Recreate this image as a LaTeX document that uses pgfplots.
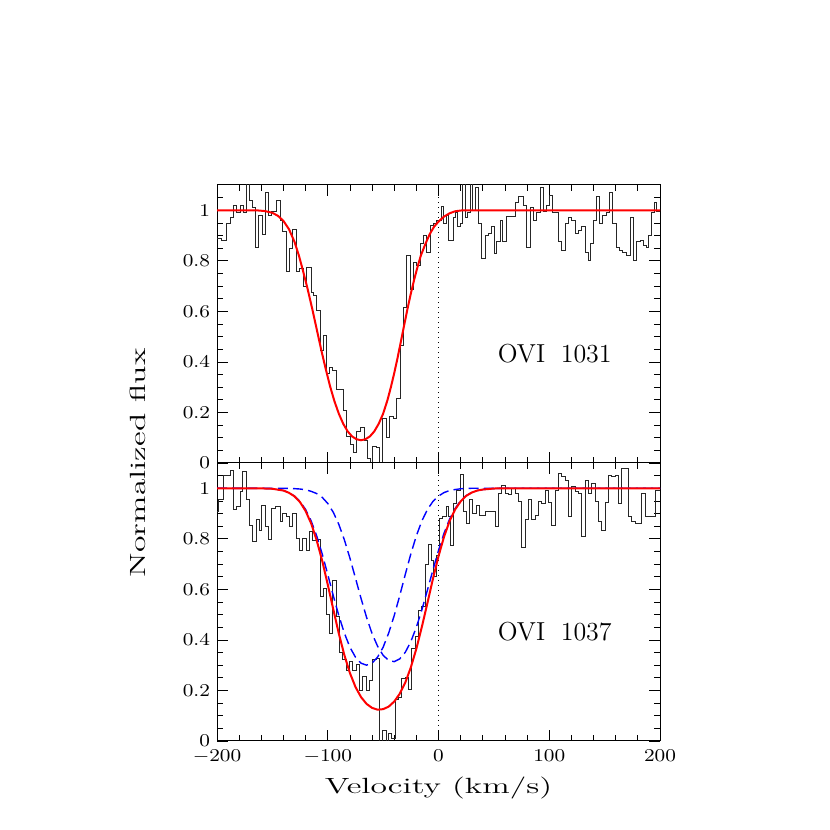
\documentclass[border=0pt]{standalone}
\usepackage{graphicx}
\usepackage{pgfplots}
\pgfplotsset{compat=1.18}

% shared look of the two stacked panels
\pgfplotsset{
  panel/.style={
    scale only axis, width=221.5pt, height=139pt,
    xmin=-200, xmax=200, ymin=0, ymax=1.1,
    xtick={-200,-100,0,100,200}, minor x tick num=4,
    ytick={0,0.2,0.4,0.6,0.8,1},
    minor ytick={0.05,0.1,0.15,0.25,0.3,0.35,0.45,0.5,0.55,0.65,0.7,0.75,0.85,0.9,0.95,1.05},
    tick align=inside, tick pos=both,
    major tick length=5.5pt, minor tick length=3pt,
    axis line style={line width=0.5pt}, every tick/.style={black, line width=0.4pt},
    tick label style={font=\fontsize{9}{10}\selectfont, inner sep=1pt},
    xticklabel={\scalebox{1.15}[1]{$\pgfmathprintnumber{\tick}$}},
    yticklabel={\scalebox{1.15}[1]{$\pgfmathprintnumber{\tick}$}},
    xticklabel style={yshift=-3.3pt},
    yticklabel style={xshift=-2.3pt},
    label style={font=\fontsize{11}{13}\selectfont},
    clip=true,
  },
  hist/.style={const plot mark left, black!85, line width=0.4pt, no marks},
  fit/.style={red, line width=1pt, no marks},
  comp/.style={blue, line width=0.7pt, dash pattern=on 5pt off 2.6pt, no marks},
}

\begin{document}
\begin{tikzpicture}
\path[use as bounding box] (0,0) rectangle (415pt,415pt);

% ---------------- top panel: OVI 1031 ----------------
\begin{axis}[panel, at={(108.5pt,183.5pt)}, anchor=south west, xticklabels={}]
\addplot[black, dotted, line width=0.5pt] coordinates {(0,0) (0,1.1)};
\addplot[hist] table {
-200.0 0.89
-195.8 0.88
-191.3 0.95
-188.2 0.97
-185.2 1.02
-182.2 0.99
-179.2 1.02
-176.2 0.99
-173.8 1.12
-170.8 1.04
-167.8 1.01
-165.4 0.855
-162.4 0.98
-159.3 0.905
-156.6 1.07
-153.6 0.98
-150.6 0.995
-146.7 1.04
-143.1 0.96
-140.7 0.915
-137.7 0.76
-134.7 0.85
-131.7 0.925
-128.6 0.76
-125.6 0.77
-122.0 0.70
-119.0 0.775
-115.1 0.675
-113.0 0.665
-110.0 0.605
-107.0 0.445
-104.0 0.505
-100.9 0.355
-98.5 0.38
-95.5 0.365
-92.5 0.29
-85.9 0.21
-82.9 0.105
-79.9 0.075
-76.9 0.04
-73.9 0.125
-70.3 0.14
-67.2 0.09
-64.2 0.02
-61.8 -0.03
-59.4 0.065
-56.4 0.063
-53.4 -0.02
-50.4 0.175
-47.4 0.10
-44.4 0.185
-40.7 0.175
-37.7 0.255
-34.7 0.465
-31.7 0.615
-28.7 0.82
-25.7 0.685
-22.7 0.795
-19.7 0.78
-16.7 0.87
-13.7 0.90
-10.7 0.835
-7.6 0.94
-4.6 0.95
-1.6 0.96
2.2 1.015
4.4 0.95
6.8 0.98
8.9 0.88
13.4 0.97
14.9 0.99
17.0 0.935
19.4 0.95
21.8 1.12
23.9 0.97
26.0 0.99
28.4 1.12
30.5 1.0
33.0 1.09
36.0 0.95
39.0 0.81
42.0 0.90
45.0 0.91
47.4 0.935
50.1 0.83
52.5 0.875
55.5 0.96
57.9 0.875
61.0 0.975
69.1 1.03
72.1 1.055
76.6 1.02
79.6 0.855
82.6 1.01
85.6 0.96
88.6 0.99
91.6 1.09
94.7 0.995
97.1 1.02
100.1 1.06
103.1 0.99
108.2 0.875
111.2 0.84
114.2 0.95
117.2 0.97
120.2 0.96
123.2 0.91
126.3 0.92
129.3 0.935
132.3 0.835
135.3 0.80
137.4 0.87
139.8 0.96
142.2 1.055
145.2 0.95
148.2 0.98
151.2 0.99
154.3 1.07
157.3 0.95
160.3 0.855
163.3 0.84
166.3 0.835
169.9 0.82
173.5 0.97
175.9 0.80
178.9 0.875
181.9 0.88
184.9 0.86
187.4 0.855
189.5 0.90
191.9 0.99
194.6 1.03
197.0 0.995
200.0 0.995
};
\addplot[fit] table {
-200 1.0
-165 1.0
-157 0.997
-150 0.99
-145 0.978
-140 0.958
-135 0.925
-130 0.875
-126 0.82
-122 0.755
-118 0.685
-114 0.61
-110 0.53
-106 0.45
-102 0.375
-98 0.305
-94 0.245
-90 0.195
-86 0.155
-82 0.125
-78 0.105
-74 0.094
-70 0.09
-66 0.094
-62 0.105
-58 0.125
-54 0.155
-50 0.195
-46 0.25
-43 0.30
-40 0.355
-37 0.415
-34 0.48
-31 0.545
-28 0.61
-25 0.67
-22 0.725
-19 0.775
-16 0.82
-12 0.865
-8 0.905
-4 0.935
0 0.955
5 0.975
10 0.988
15 0.996
22 1.0
200 1.0
};
\node[font=\fontsize{13}{15}\selectfont] at (axis cs:105,0.433) {OVI\hspace{0.6em}1031};
\end{axis}

% ---------------- bottom panel: OVI 1037 ----------------
\begin{axis}[panel, at={(108.5pt,44.5pt)}, anchor=south west,
  xlabel={\scalebox{1.53}[1]{Velocity (km/s)}},
  ylabel={\scalebox{1.53}[1]{Normalized flux}},
  xlabel style={at={(axis description cs:0.5,-0.169)}, anchor=center},
  ylabel style={at={(axis description cs:-0.178,1)}, anchor=center},
]
\addplot[black, dotted, line width=0.5pt] coordinates {(0,0) (0,1.1)};
\addplot[hist] table {
-200.0 0.91
-198.8 0.954
-194.3 1.05
-188.2 1.07
-185.2 0.917
-182.2 0.927
-179.2 0.987
-176.8 1.066
-173.8 0.956
-170.8 0.855
-167.8 0.79
-164.8 0.875
-161.8 0.835
-159.6 0.934
-156.6 0.848
-153.6 0.798
-150.6 0.92
-147.6 0.927
-143.1 0.868
-140.7 0.90
-137.7 0.89
-134.7 0.848
-131.7 0.90
-128.6 0.80
-125.6 0.756
-122.6 0.80
-119.6 0.756
-116.6 0.828
-113.6 0.795
-110.0 0.798
-107.0 0.571
-104.0 0.604
-100.9 0.499
-98.5 0.426
-95.5 0.635
-92.5 0.492
-89.5 0.35
-86.5 0.323
-83.5 0.281
-80.5 0.314
-77.5 0.281
-74.5 0.305
-71.4 0.202
-68.4 0.255
-65.4 0.202
-62.4 0.241
-59.4 0.323
-56.4 0.327
-53.4 -0.02
-50.4 0.04
-47.4 -0.02
-45.3 0.03
-42.3 0.01
-39.2 0.165
-36.2 0.173
-33.2 0.248
-30.2 0.252
-27.2 0.204
-24.2 0.367
-21.2 0.413
-18.2 0.518
-15.2 0.534
-12.2 0.697
-9.1 0.776
-6.1 0.716
-4.6 0.65
-1.6 0.736
0.75 0.881
3.8 0.89
6.8 0.93
8.9 0.89
11.0 0.772
13.4 0.94
16.4 0.993
19.4 1.053
22.4 0.908
25.4 0.862
27.8 0.954
30.8 0.90
33.9 0.934
36.9 0.894
42.0 0.908
51.0 0.851
54.0 0.98
57.0 1.013
60.0 0.98
63.1 0.974
66.1 1.0
69.1 0.98
72.1 0.947
75.1 0.766
78.1 0.875
81.1 0.956
84.1 0.875
87.1 0.894
90.1 0.947
93.2 0.94
96.2 0.993
99.2 0.943
102.2 0.855
105.2 0.993
108.2 1.057
111.2 1.046
114.2 1.03
117.2 0.888
120.2 1.007
123.2 0.987
126.3 0.98
129.3 0.809
132.3 1.033
135.3 0.98
138.3 1.02
141.3 0.947
144.3 0.868
147.3 0.835
150.3 0.943
153.4 1.049
156.4 1.046
159.4 1.05
162.4 0.94
165.4 1.079
171.4 0.888
174.4 0.868
177.4 0.862
183.5 0.98
186.5 0.888
195.5 0.993
200.0 0.993
};
% component 1
\addplot[comp] table {
-200 1.0
-160 0.9995
-150 0.998
-140 0.991
-135 0.983
-130 0.969
-125 0.948
-120 0.916
-115 0.871
-110 0.812
-105 0.740
-100 0.659
-95 0.575
-90 0.496
-85 0.427
-80 0.371
-75 0.332
-70 0.308
-65 0.300
-60 0.308
-55 0.332
-50 0.371
-45 0.427
-40 0.496
-35 0.575
-30 0.659
-25 0.740
-20 0.812
-15 0.871
-10 0.916
-5 0.948
0 0.969
5 0.983
10 0.991
15 0.995
20 0.998
30 1.0
200 1.0
};
% component 2
\addplot[comp] table {
-200 1.0
-140 1.0
-130 0.9985
-125 0.997
-120 0.994
-115 0.988
-110 0.979
-105 0.964
-100 0.940
-95 0.905
-90 0.857
-85 0.796
-80 0.724
-75 0.645
-70 0.565
-65 0.490
-60 0.425
-55 0.375
-50 0.339
-45 0.319
-40 0.314
-35 0.325
-30 0.351
-25 0.393
-20 0.450
-15 0.519
-10 0.597
-5 0.677
0 0.754
5 0.822
10 0.878
15 0.920
20 0.951
25 0.971
30 0.983
35 0.991
40 0.995
50 0.999
60 1.0
200 1.0
};
% total fit
\addplot[fit] table {
-200 1.0
-160 0.9995
-150 0.998
-140 0.991
-135 0.982
-130 0.968
-125 0.945
-120 0.910
-115 0.861
-110 0.794
-105 0.713
-100 0.619
-95 0.521
-90 0.425
-85 0.340
-80 0.269
-75 0.214
-70 0.174
-65 0.147
-60 0.131
-55 0.124
-50 0.126
-45 0.136
-40 0.156
-35 0.187
-30 0.231
-25 0.291
-20 0.365
-15 0.452
-10 0.546
-5 0.642
0 0.731
5 0.808
10 0.870
15 0.916
20 0.948
25 0.970
30 0.983
35 0.991
40 0.995
50 0.999
60 1.0
200 1.0
};
\node[font=\fontsize{13}{15}\selectfont] at (axis cs:105,0.431) {OVI\hspace{0.6em}1037};
\end{axis}
\end{tikzpicture}
\end{document}
